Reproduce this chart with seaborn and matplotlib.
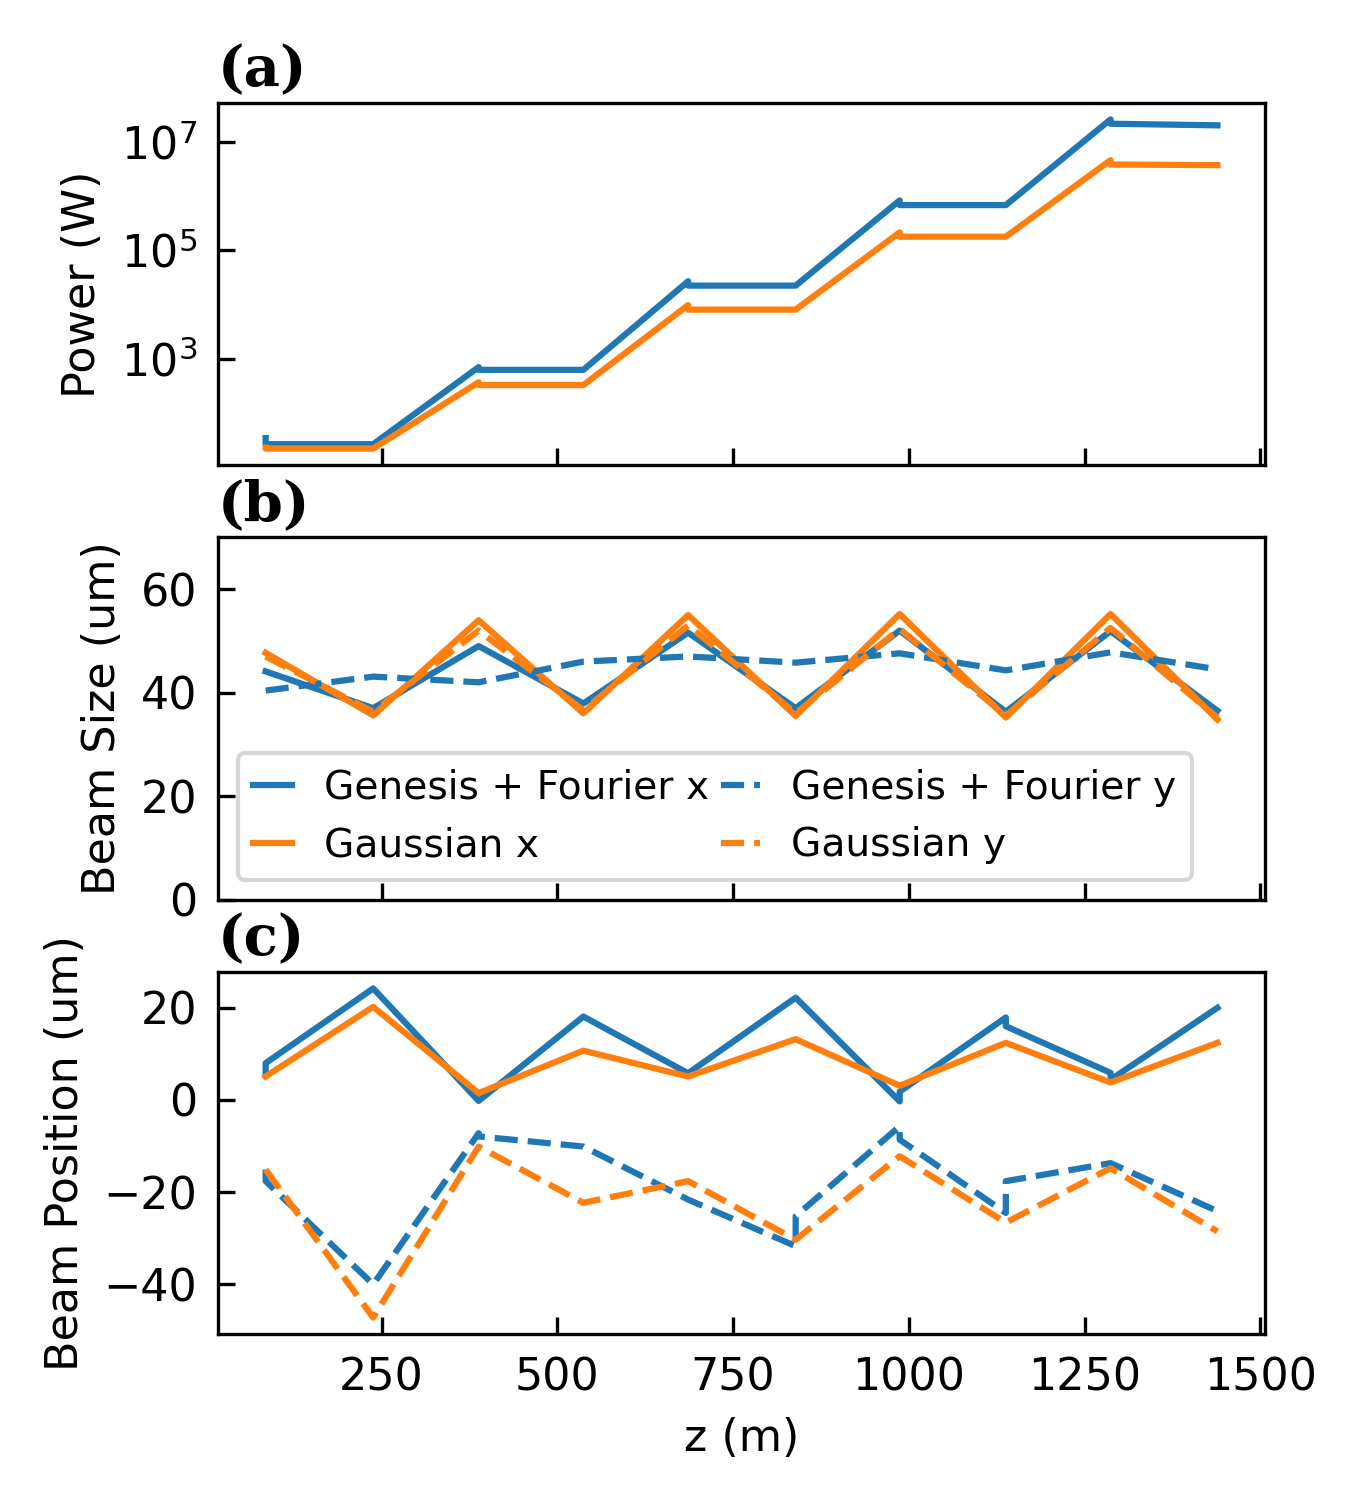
import numpy as np
import pandas as pd
import seaborn as sns
import matplotlib.pyplot as plt
from matplotlib.ticker import NullLocator

# z positions (m) of the lattice nodes
z_nodes = [85, 238, 388, 537, 686, 839, 987, 1138, 1287, 1439]

# (a) power, with small jumps at section ends
z_pow = [85, 85, 238, 388, 388, 537, 686, 686, 839, 987, 987, 1138, 1287, 1287, 1439]
pow_genesis = [35, 27, 27, 708, 631, 631, 2.69e4, 2.24e4, 2.24e4,
               8.3e5, 6.8e5, 6.8e5, 2.57e7, 2.14e7, 2.0e7]
pow_gauss = [23.4, 22.4, 22.4, 372, 331, 331, 9.8e3, 8.1e3, 8.1e3,
             2.14e5, 1.78e5, 1.78e5, 4.57e6, 3.8e6, 3.7e6]

# (b) beam size (um)
size_genesis_x = [44.1, 37.0, 49.0, 37.9, 51.6, 37.0, 52.0, 36.3, 51.9, 36.5]
size_gauss_x = [47.7, 35.6, 54.0, 36.0, 55.0, 35.5, 55.2, 35.2, 55.2, 34.8]
size_genesis_y = [40.4, 43.1, 42.0, 46.0, 47.0, 45.8, 47.6, 44.3, 47.8, 44.5]
size_gauss_y = [47.0, 36.3, 52.0, 36.6, 53.0, 36.0, 52.3, 35.6, 52.5, 35.2]

# (c) beam position (um)
z_pos_gx = [85, 85, 238, 388, 537, 686, 839, 987, 987, 1138, 1138, 1287, 1287, 1439]
pos_genesis_x = [5.4, 8.0, 24.2, -0.2, 18.1, 5.8, 22.2, -0.3, 1.8, 17.9, 16.0, 5.9, 4.4, 20.0]
pos_gauss_x = [5.1, 20.2, 1.5, 10.7, 5.1, 13.2, 3.1, 12.4, 3.8, 12.4]
z_pos_gy = [85, 85, 238, 388, 388, 537, 686, 839, 839, 987, 987, 1138, 1138, 1287, 1439]
pos_genesis_y = [-15.1, -17.6, -40.0, -7.2, -7.9, -10.1, -21.6, -31.7, -25.2,
                 -5.7, -8.6, -24.5, -17.6, -13.7, -24.1]
pos_gauss_y = [-15.1, -47.2, -10.1, -22.3, -17.6, -30.3, -12.2, -26.6, -14.8, -28.5]

blue = '#1f77b4'
orange = '#ff7f0e'

plt.rcParams.update({
    'font.family': ['DejaVu Sans'],
    'font.size': 10.7,
    'xtick.direction': 'in',
    'ytick.direction': 'in',
    'xtick.major.size': 4,
    'ytick.major.size': 4,
    'xtick.major.pad': 5.5,
    'ytick.major.pad': 5,
})

fig, axes = plt.subplots(3, 1, sharex=True, figsize=(1357 / 300, 1503 / 300), dpi=300)
fig.subplots_adjust(left=0.1607, right=0.9322, bottom=0.1124, top=0.9315, hspace=0.2)

line_kw = dict(estimator=None, sort=False, linewidth=1.5)

# (a)
ax = axes[0]
sns.lineplot(x=z_pow, y=pow_genesis, ax=ax, color=blue, **line_kw)
sns.lineplot(x=z_pow, y=pow_gauss, ax=ax, color=orange, **line_kw)
ax.set_yscale('log')
ax.set_yticks([1e3, 1e5, 1e7])
ax.yaxis.set_minor_locator(NullLocator())
ax.set_ylabel('Power (W)')

# (b)
ax = axes[1]
sns.lineplot(x=z_nodes, y=size_genesis_x, ax=ax, color=blue, label='Genesis + Fourier x', **line_kw)
sns.lineplot(x=z_nodes, y=size_gauss_x, ax=ax, color=orange, label='Gaussian x', **line_kw)
sns.lineplot(x=z_nodes, y=size_genesis_y, ax=ax, color=blue, linestyle='--', label='Genesis + Fourier y', **line_kw)
sns.lineplot(x=z_nodes, y=size_gauss_y, ax=ax, color=orange, linestyle='--', label='Gaussian y', **line_kw)
ax.set_ylim(0, 70)
ax.set_yticks([0, 20, 40, 60])
ax.set_ylabel('Beam Size (um)')
ax.legend(loc='lower left', ncol=2, fontsize=9.4, handlelength=1.0,
          handletextpad=0.8, columnspacing=0.3)

# (c)
ax = axes[2]
sns.lineplot(x=z_pos_gx, y=pos_genesis_x, ax=ax, color=blue, **line_kw)
sns.lineplot(x=z_nodes, y=pos_gauss_x, ax=ax, color=orange, **line_kw)
sns.lineplot(x=z_pos_gy, y=pos_genesis_y, ax=ax, color=blue, linestyle='--', **line_kw)
sns.lineplot(x=z_nodes, y=pos_gauss_y, ax=ax, color=orange, linestyle='--', **line_kw)
ax.set_ylabel('Beam Position (um)')
ax.set_xlabel('z (m)')
ax.set_xticks([250, 500, 750, 1000, 1250, 1500])

for ax, lab in zip(axes, ['(a)', '(b)', '(c)']):
    ax.set_title(lab, loc='left', fontweight='bold', family='DejaVu Serif', fontsize=13.5, pad=4)

fig.savefig('out.png', dpi=300)
